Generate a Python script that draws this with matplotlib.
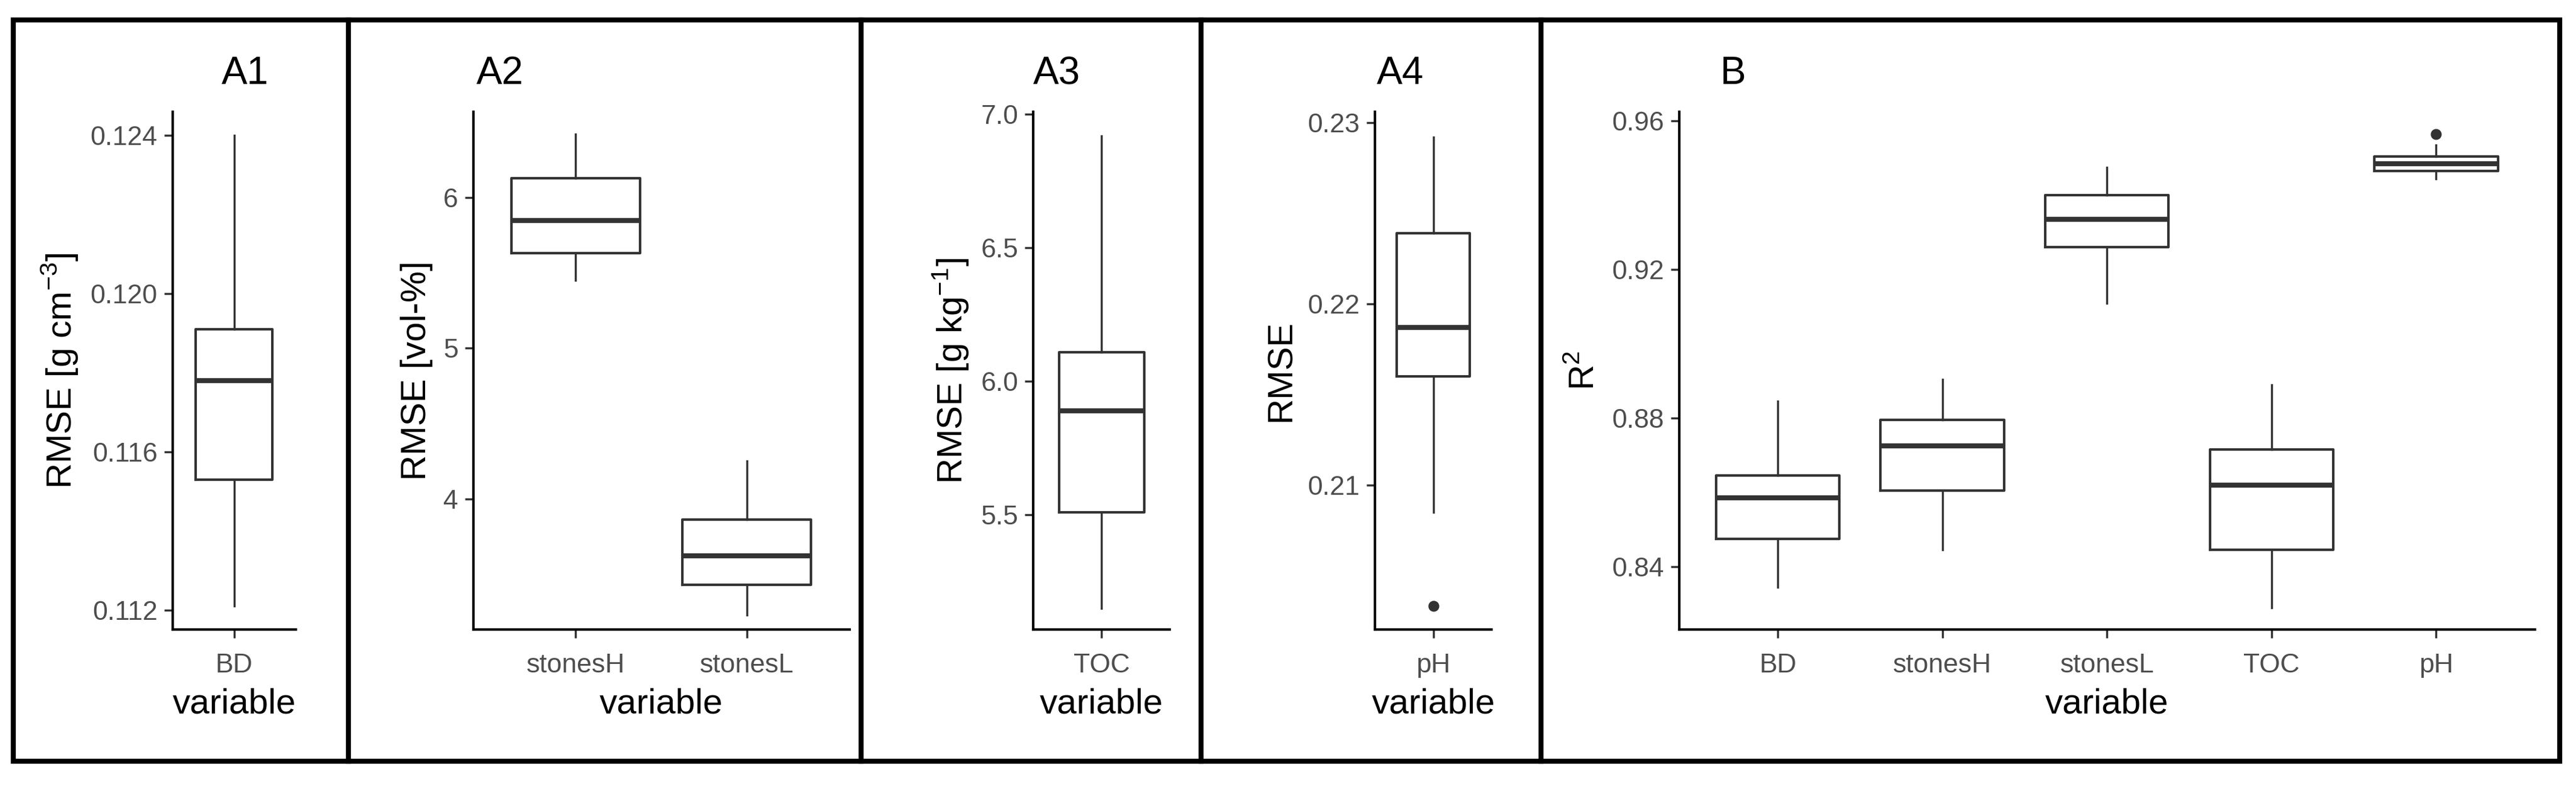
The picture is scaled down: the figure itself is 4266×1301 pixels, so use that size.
import matplotlib
matplotlib.use("Agg")
import matplotlib.pyplot as plt
from matplotlib.patches import Rectangle
from matplotlib.lines import Line2D

plt.rcParams['font.family'] = ['Liberation Sans', 'DejaVu Sans']
plt.rcParams['mathtext.fontset'] = 'custom'
plt.rcParams['mathtext.rm'] = 'Liberation Sans'

# data: (label, whislo, q1, med, q3, whishi, outliers)
A1_cats = ["BD"]
A1_stats = [(0.1121, 0.1153, 0.1178, 0.1191, 0.1240, [])]
A2_cats = ["stonesH", "stonesL"]
A2_stats = [(5.45, 5.63, 5.85, 6.13, 6.42, []), (3.23, 3.43, 3.62, 3.86, 4.25, [])]
A3_cats = ["TOC"]
A3_stats = [(5.15, 5.51, 5.89, 6.11, 6.92, [])]
A4_cats = ["pH"]
A4_stats = [(0.2085, 0.2160, 0.2187, 0.2239, 0.2292, [0.2033])]
B_cats = ["BD", "stonesH", "stonesL", "TOC", "pH"]
B_stats = [(0.8345, 0.8475, 0.8585, 0.8645, 0.8845, []),
           (0.8445, 0.8605, 0.8725, 0.8795, 0.8905, []),
           (0.9110, 0.9260, 0.9335, 0.9400, 0.9475, []),
           (0.8290, 0.8445, 0.8620, 0.8715, 0.8890, []),
           (0.9445, 0.9465, 0.9485, 0.9505, 0.9535, [0.9565])]

fig = plt.figure(figsize=(42.66, 13.01), dpi=100)
W = 1568.0; H = 478.0

def fx(v): return v / W
def fy(v): return 1 - v / H

fig.add_artist(Rectangle((fx(8), fy(463)), fx(1558) - fx(8), fy(12) - fy(463),
                         transform=fig.transFigure, fill=False, lw=6, ec='black'))
for xd in [212, 524, 731, 938]:
    fig.add_artist(Line2D([fx(xd), fx(xd)], [fy(463), fy(12)], transform=fig.transFigure,
                          lw=6, color='black'))

panels = [
    ("A1", A1_cats, A1_stats, (105, 180), (0.1115, 0.1246), [0.112, 0.116, 0.120, 0.124],
     ["0.112", "0.116", "0.120", "0.124"], r"RMSE [g cm$^{-3}$]", 135),
    ("A2", A2_cats, A2_stats, (288, 517), (3.13, 6.57), [4, 5, 6], ["4", "5", "6"],
     "RMSE [vol-%]", 290),
    ("A3", A3_cats, A3_stats, (629, 712), (5.07, 7.01), [5.5, 6.0, 6.5, 7.0],
     ["5.5", "6.0", "6.5", "7.0"], r"RMSE [g kg$^{-1}$]", 629),
    ("A4", A4_cats, A4_stats, (837, 908), (0.2020, 0.2306), [0.21, 0.22, 0.23],
     ["0.21", "0.22", "0.23"], "RMSE", 838),
    ("B", B_cats, B_stats, (1022, 1543), (0.823, 0.9625), [0.84, 0.88, 0.92, 0.96],
     ["0.84", "0.88", "0.92", "0.96"], r"R$^2$", 1047),
]

for title, cats, stats, (xl, xr), ylim, yt, ytl, ylab, tx in panels:
    ax = fig.add_axes([fx(xl), fy(383), fx(xr) - fx(xl), fy(68) - fy(383)])
    bx = []
    for c, s in zip(cats, stats):
        bx.append(dict(label=c, whislo=s[0], q1=s[1], med=s[2], q3=s[3], whishi=s[4], fliers=s[5]))
    pos = list(range(1, len(cats) + 1))
    ax.bxp(bx, positions=pos, widths=0.75, showcaps=False,
           boxprops=dict(color='#333333', lw=3),
           whiskerprops=dict(color='#333333', lw=2.5),
           medianprops=dict(color='#333333', lw=6),
           flierprops=dict(marker='o', markerfacecolor='#333333', markeredgecolor='#333333',
                           markersize=12))
    ax.set_xlim(0.4, len(cats) + 0.6)
    ax.set_ylim(*ylim)
    ax.set_yticks(yt)
    ax.set_yticklabels(ytl)
    ax.set_xticks(pos)
    ax.set_xticklabels(cats)
    for sp in ['top', 'right']:
        ax.spines[sp].set_visible(False)
    for sp in ['left', 'bottom']:
        ax.spines[sp].set_linewidth(3)
    ax.tick_params(axis='both', labelsize=32, colors='#333333', labelcolor='#4d4d4d',
                   width=2.5, length=10, pad=8)
    ax.tick_params(axis='x', pad=18)
    ax.set_ylabel(ylab, fontsize=42, labelpad=12)
    ax.set_xlabel("variable", fontsize=42, labelpad=12)
    fig.text(fx(tx), fy(45), title, fontsize=46, va='center', ha='left')

fig.savefig("out.png", dpi=100)
